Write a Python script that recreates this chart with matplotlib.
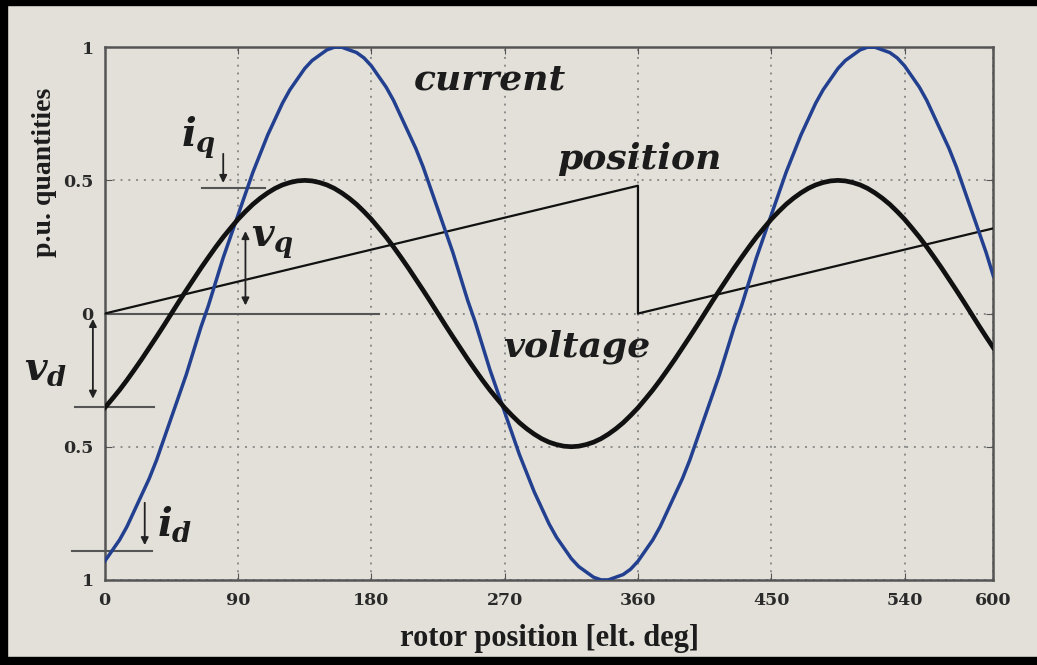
import matplotlib.pyplot as plt
import matplotlib.patches as mpatches

# rotor position grid, elt. deg (5 deg steps)
theta = list(range(0, 601, 5))

# current (p.u.) read over one period, 0..355 deg
current_one = [-0.93, -0.89, -0.85, -0.80, -0.74, -0.68, -0.62, -0.55, -0.47, -0.39,
               -0.31, -0.23, -0.14, -0.05, 0.03, 0.12, 0.21, 0.29, 0.37, 0.45,
               0.53, 0.60, 0.67, 0.73, 0.79, 0.84, 0.88, 0.92, 0.95, 0.97,
               0.99, 1.00, 1.00, 0.99, 0.98, 0.96,
               0.93, 0.89, 0.85, 0.80, 0.74, 0.68, 0.62, 0.55, 0.47, 0.39,
               0.31, 0.23, 0.14, 0.05, -0.03, -0.12, -0.21, -0.29, -0.37, -0.45,
               -0.53, -0.60, -0.67, -0.73, -0.79, -0.84, -0.88, -0.92, -0.95, -0.97,
               -0.99, -1.00, -1.00, -0.99, -0.98, -0.96]
# voltage (p.u.) read over one period, 0..355 deg
voltage_one = [-0.354, -0.321, -0.287, -0.250, -0.211, -0.171, -0.129, -0.087, -0.044, 0.0,
               0.044, 0.087, 0.129, 0.171, 0.211, 0.250, 0.287, 0.321, 0.354, 0.383,
               0.410, 0.433, 0.453, 0.470, 0.483, 0.492, 0.498, 0.500, 0.498, 0.492,
               0.483, 0.470, 0.453, 0.433, 0.410, 0.383,
               0.354, 0.321, 0.287, 0.250, 0.211, 0.171, 0.129, 0.087, 0.044, 0.0,
               -0.044, -0.087, -0.129, -0.171, -0.211, -0.250, -0.287, -0.321, -0.354, -0.383,
               -0.410, -0.433, -0.453, -0.470, -0.483, -0.492, -0.498, -0.500, -0.498, -0.492,
               -0.483, -0.470, -0.453, -0.433, -0.410, -0.383]
current = (current_one * 2)[:len(theta)]
voltage = (voltage_one * 2)[:len(theta)]

# position sawtooth
pos_theta = [0, 360, 360, 600]
pos_val = [0.0, 0.48, 0.0, 0.32]

xticks = [0, 90, 180, 270, 360, 450, 540, 600]
yticks = [-1, -0.5, 0, 0.5, 1]
ytick_labels = ['1', '0.5', '0', '0.5', '1']

bg = '#e2e0d8'
ink = '#1c1c1c'
plt.rcParams['mathtext.fontset'] = 'custom'
plt.rcParams['mathtext.it'] = 'DejaVu Serif:italic:bold'
plt.rcParams['mathtext.rm'] = 'DejaVu Serif:bold'

fig = plt.figure(figsize=(10.37, 6.65), dpi=100, facecolor=bg)
ax = fig.add_axes([0.101, 0.128, 0.857, 0.801], facecolor=bg)

ax.plot(theta, current, color='#22408f', lw=2.5, zorder=4, solid_joinstyle='round')
ax.plot(theta, voltage, color='#111111', lw=3.4, zorder=5, solid_joinstyle='round')
ax.plot(pos_theta, pos_val, color='#111111', lw=1.6, zorder=3)

ax.set_xlim(0, 600)
ax.set_ylim(-1, 1)
ax.set_xticks(xticks)
ax.set_yticks(yticks)
ax.set_yticklabels(ytick_labels)
ax.grid(True, ls=(0, (1, 3)), color='#8c8c8c', lw=1.4)
ax.tick_params(direction='in', top=True, right=True, length=5, color='#555555',
               labelsize=12.5)
ax.tick_params(axis='x', pad=9)
ax.tick_params(axis='y', pad=8)
for lab in ax.get_xticklabels() + ax.get_yticklabels():
    lab.set_fontfamily('DejaVu Serif')
    lab.set_fontweight('bold')
    lab.set_color('#2a2a2a')
for sp in ax.spines.values():
    sp.set_color('#555555')
    sp.set_linewidth(1.8)

ax.set_xlabel('rotor position [elt. deg]', fontsize=22, family='Liberation Serif',
              weight='bold', color=ink)
ax.set_ylabel('p.u. quantities', fontsize=20, family='Liberation Serif',
              weight='bold', color=ink)
ax.xaxis.set_label_coords(0.5, -0.083)
ax.yaxis.set_label_coords(-0.054, 0.765)

# reference levels
ref = dict(color='#555555', lw=1.5, clip_on=False, zorder=2)
ax.plot([0, 185], [0, 0], **ref)
ax.plot([-20, 33], [-0.35, -0.35], **ref)
ax.plot([-22, 32], [-0.89, -0.89], **ref)
ax.plot([66, 108], [0.47, 0.47], **ref)

arr = dict(arrowstyle='<|-|>', color='#222222', lw=1.3, mutation_scale=11)
ax.annotate('', xy=(95, 0.02), xytext=(95, 0.32), arrowprops=arr)
ax.annotate('', xy=(-8, -0.01), xytext=(-8, -0.33), arrowprops=arr,
            annotation_clip=False)
arr1 = dict(arrowstyle='-|>', color='#222222', lw=1.3, mutation_scale=11)
ax.annotate('', xy=(80, 0.48), xytext=(80, 0.61), arrowprops=arr1)
ax.annotate('', xy=(27, -0.88), xytext=(27, -0.70), arrowprops=arr1)

mt = dict(fontsize=28, color=ink, ha='center', va='center')
ax.text(63, 0.66, r'$i_q$', **mt)
ax.text(113, 0.27, r'$v_q$', **mt)
ax.text(-40, -0.21, r'$v_d$', clip_on=False, **mt)
ax.text(47, -0.79, r'$i_d$', **mt)

lt = dict(fontsize=26, color=ink, ha='center', va='center',
          family='DejaVu Serif', style='italic', weight='bold')
ax.text(260, 0.88, 'current', **lt)
ax.text(361, 0.58, 'position', **lt)
ax.text(319, -0.125, 'voltage', **lt)

# dark photo border
for rect in [(0, 0.992, 1, 0.008), (0, 0, 0.007, 1), (0, 0, 1, 0.012)]:
    fig.patches.append(mpatches.Rectangle(rect[:2], rect[2], rect[3],
                                          transform=fig.transFigure,
                                          color='black', zorder=10))

fig.savefig('out.png', dpi=100, facecolor=bg)
